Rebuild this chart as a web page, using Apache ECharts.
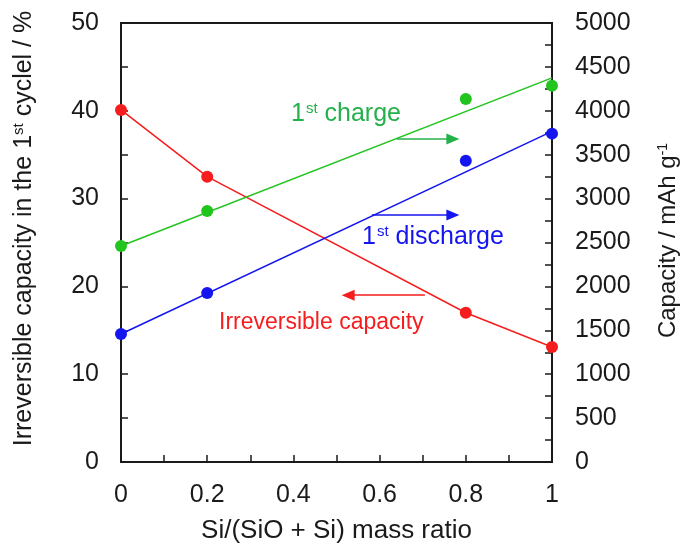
<!DOCTYPE html>
<html><head><meta charset="utf-8">
<script src="https://cdn.jsdelivr.net/npm/echarts@6/dist/echarts.min.js"></script>
<style>html,body{margin:0;padding:0;background:#fff}#c{width:686px;height:546px}</style>
</head><body><div id="c"></div>
<script>
const ratio = [0, 0.2, 0.8, 1];
const irreversible = [40.1, 32.5, 17.0, 13.1];
const charge = [2460, 2860, 4135, 4285];
const discharge = [1458, 1925, 3430, 3740];
const chargeFit = [[0, 2460], [1, 4375]];
const dischargeFit = [[0, 1458], [1, 3765]];
const xTicks = ['0', '0.2', '0.4', '0.6', '0.8', '1'];

const RED = '#f51d1d', GREEN = '#22c41e', BLUE = '#1515f0', GTXT = '#24b04a';
const FONT = 'Liberation Sans';
const chart = echarts.init(document.getElementById('c'));
const pts = (ys) => ratio.map((x, i) => [x, ys[i]]);
const axisCommon = {
  axisLine: {show: true, lineStyle: {color: '#1a1a1a', width: 2}},
  axisTick: {show: true, inside: true, length: 7, lineStyle: {color: '#1a1a1a', width: 1.5}},
  minorTick: {show: true, splitNumber: 2, length: 7, lineStyle: {color: '#1a1a1a', width: 1.5}},
  splitLine: {show: false},
  axisLabel: {color: '#1a1a1a', fontSize: 25, fontFamily: FONT, formatter: (v) => String(v)},
  nameTextStyle: {color: '#1a1a1a', fontSize: 25, fontFamily: FONT}
};
const supRich = (fs, ss) => ({
  n: {fontSize: fs, fontFamily: FONT, color: '#1a1a1a'},
  s: {fontSize: ss, fontFamily: FONT, color: '#1a1a1a', verticalAlign: 'top', padding: [0, 0, Math.round(fs * 0.45), 0]}
});
const arrowLine = (color, from, to) => ({
  silent: true, symbol: ['none', 'triangle'], symbolSize: [11, 13],
  label: {show: false}, lineStyle: {color: color, width: 1.5, type: 'solid'},
  data: [[{coord: from}, {coord: to}]]
});
chart.setOption({
  animation: false,
  grid: {left: 121, right: 134, top: 23, bottom: 84, show: true, borderColor: '#1a1a1a', borderWidth: 2,
         containLabel: false, outerBoundsMode: 'none'},
  xAxis: Object.assign({}, axisCommon, {
    type: 'value', min: 0, max: 1, interval: 0.2,
    name: 'Si/(SiO + Si) mass ratio', nameLocation: 'middle', nameGap: 56,
    nameTextStyle: Object.assign({}, axisCommon.nameTextStyle, {fontSize: 26}),
    axisLabel: Object.assign({}, axisCommon.axisLabel, {margin: 21, formatter: (v) => xTicks[Math.round(v / 0.2)]})
  }),
  yAxis: [
    Object.assign({}, axisCommon, {
      type: 'value', min: 0, max: 50, interval: 10, position: 'left',
      name: '{n|Irreversible capacity in the 1}{s|st}{n| cyclel / %}', nameLocation: 'middle', nameGap: 84, nameRotate: 90,
      nameTextStyle: Object.assign({}, axisCommon.nameTextStyle, {rich: supRich(25, 15), padding: [0, 0, 0, 28]}),
      axisLabel: Object.assign({}, axisCommon.axisLabel, {margin: 22})
    }),
    Object.assign({}, axisCommon, {
      type: 'value', min: 0, max: 5000, interval: 500, position: 'right',
      name: '{n|Capacity / mAh g}{s|-1}', nameLocation: 'middle', nameGap: 104, nameRotate: 90,
      nameTextStyle: Object.assign({}, axisCommon.nameTextStyle, {fontSize: 24, rich: supRich(24, 14), padding: [0, 0, 0, 4]}),
      axisLabel: Object.assign({}, axisCommon.axisLabel, {margin: 23})
    })
  ],
  series: [
    {type: 'line', yAxisIndex: 0, data: pts(irreversible), symbol: 'circle', symbolSize: 12,
     itemStyle: {color: RED}, lineStyle: {color: RED, width: 1.5}, clip: false,
     markLine: arrowLine(RED, [0.705, 19.0], [0.527, 19.0])},
    {type: 'line', yAxisIndex: 1, data: chargeFit, symbol: 'none', lineStyle: {color: GREEN, width: 1.5},
     markLine: arrowLine(GTXT, [0.64, 3679], [0.77, 3679])},
    {type: 'line', yAxisIndex: 1, data: dischargeFit, symbol: 'none', lineStyle: {color: BLUE, width: 1.5},
     markLine: arrowLine(BLUE, [0.582, 2813], [0.77, 2813])},
    {type: 'scatter', yAxisIndex: 1, data: pts(charge), symbolSize: 12, itemStyle: {color: GREEN, opacity: 1}, clip: false},
    {type: 'scatter', yAxisIndex: 1, data: pts(discharge), symbolSize: 12, itemStyle: {color: BLUE, opacity: 1}, clip: false}
  ],
  graphic: [
    {type: 'text', left: 291, top: 101, style: {text: '{n|1}{s|st}{n| charge}', rich: {
      n: {fontSize: 25, fontFamily: FONT, fill: GTXT},
      s: {fontSize: 15, fontFamily: FONT, fill: GTXT, verticalAlign: 'top', padding: [0, 0, 11, 1]}}}},
    {type: 'text', left: 362, top: 224, style: {text: '{n|1}{s|st}{n| discharge}', rich: {
      n: {fontSize: 25, fontFamily: FONT, fill: BLUE},
      s: {fontSize: 15, fontFamily: FONT, fill: BLUE, verticalAlign: 'top', padding: [0, 0, 11, 1]}}}},
    {type: 'text', left: 219, top: 311, style: {text: 'Irreversible capacity', fontSize: 23, fontFamily: FONT, fill: RED}}
  ]
});
</script></body></html>
